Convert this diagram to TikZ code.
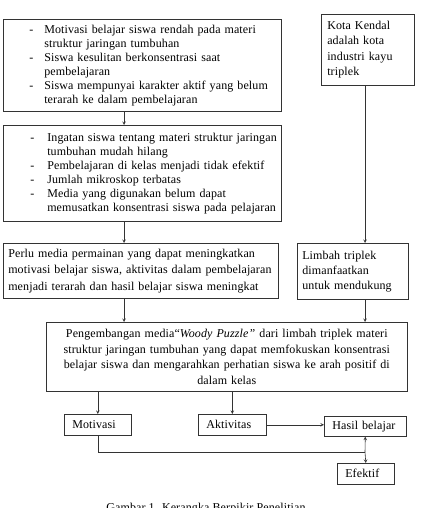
\documentclass[tikz,border=0pt]{standalone}
\usepackage{fontspec}
\setmainfont{Liberation Serif}[LetterSpace=1]
\usepackage{tikz}
\usetikzlibrary{shapes.geometric, arrows}
\tikzstyle{box} = [
	draw=black!80,
	line width=0.6pt,
	inner sep=0pt,
	anchor=north west,
	align=left,
	font=\fontsize{12}{14}\selectfont
]
\tikzstyle{smallbox} = [box, inner xsep=8pt, minimum height=21pt]
\tikzstyle{arrow} = [draw=black!80, line width=0.6pt, ->, >=stealth]
\tikzstyle{line} = [draw=black!80, line width=0.6pt]

\begin{document}
\begin{tikzpicture}[x=1pt, y=-1pt]
    \useasboundingbox (0, 0) rectangle (420, 508);
    \clip (0, 0) rectangle (420, 508);
    \node [box, text width=278pt, minimum height=92pt] at (3, 19) (box A) {%
      \begin{tabular}{@{\hspace{26pt}}l@{\hspace{11pt}}l@{}}
        - & Motivasi belajar siswa rendah pada materi\\
          & struktur jaringan tumbuhan\\
        - & Siswa kesulitan berkonsentrasi saat\\
          & pembelajaran\\
        - & Siswa mempunyai karakter aktif yang belum\\
          & terarah ke dalam pembelajaran
      \end{tabular}};
    \node [box, text width=278pt, minimum height=96pt] at (3, 125) (box B) {%
      \begin{tabular}{@{\hspace{27pt}}l@{\hspace{13pt}}l@{}}
        - & Ingatan siswa tentang materi struktur jaringan\\
          & tumbuhan mudah hilang\\
        - & Pembelajaran di kelas menjadi tidak efektif\\
        - & Jumlah mikroskop terbatas\\
        - & Media yang digunakan belum dapat\\
          & memusatkan konsentrasi siswa pada pelajaran
      \end{tabular}};
    \node [box, inner xsep=6pt, text width=81pt, minimum height=71pt,
      font=\fontsize{12}{15.5}\selectfont] at (321, 14) (kota)
      {Kota Kendal\\adalah kota\\industri kayu\\triplek};
    \node [box, inner xsep=5pt, text width=265pt, minimum height=55pt,
      font=\fontsize{12}{16.5}\selectfont] at (3, 243) (perlu)
      {Perlu media permainan yang dapat meningkatkan\\motivasi belajar siswa, aktivitas dalam pembelajaran\\menjadi terarah dan hasil belajar siswa meningkat};
    \node [box, inner xsep=5pt, text width=101pt, minimum height=56pt,
      font=\fontsize{12}{15}\selectfont] at (297, 243) (limbah)
      {Limbah triplek\\dimanfaatkan\\untuk mendukung};
    \node [box, align=center, text width=361pt, minimum height=69pt,
      font=\fontsize{12}{15.7}\selectfont] at (46, 322) (pengembangan)
      {Pengembangan media``\textit{Woody Puzzle''} dari limbah triplek materi\\
       struktur jaringan tumbuhan yang dapat memfokuskan konsentrasi\\
       belajar siswa dan mengarahkan perhatian siswa ke arah positif di\\
       dalam kelas};
    \node [smallbox, text width=51pt] at (64, 414) (motivasi) {Motivasi};
    \node [smallbox, text width=52pt] at (198, 414) (aktivitas) {Aktivitas};
    \node [smallbox, text width=66pt, minimum height=20pt] at (324, 416) (hasil) {Hasil belajar};
    \node [smallbox, text width=41pt] at (337, 463) (efektif) {Efektif};
    \node [anchor=base, font=\fontsize{12}{14}\selectfont] at (206, 511) (caption)
      {Gambar 1. Kerangka Berpikir Penelitian};
    \coordinate (left spine) at (124, 0);
    \coordinate (right spine) at (365, 0);
    \coordinate (join) at (365, 452);
    \draw [arrow] (left spine |- box A.south) -- (left spine |- box B.north);
    \draw [arrow] (left spine |- box B.south) -- (left spine |- perlu.north);
    \draw [arrow] (left spine |- perlu.south) -- (left spine |- pengembangan.north);
    \draw [arrow] (right spine |- kota.south) -- (right spine |- limbah.north);
    \draw [arrow] (right spine |- limbah.south) -- (right spine |- pengembangan.north);
    \draw [arrow] (motivasi.north |- pengembangan.south) -- (motivasi.north);
    \draw [arrow] (aktivitas.north |- pengembangan.south) -- (aktivitas.north);
    \draw [arrow] (aktivitas.east) -- (aktivitas.east -| hasil.west);
    \draw [line] (motivasi.south) |- (join);
    \draw [arrow] (join) -- (hasil.south);
    \draw [arrow] (join) -- (efektif.north);
\end{tikzpicture}
\end{document}
